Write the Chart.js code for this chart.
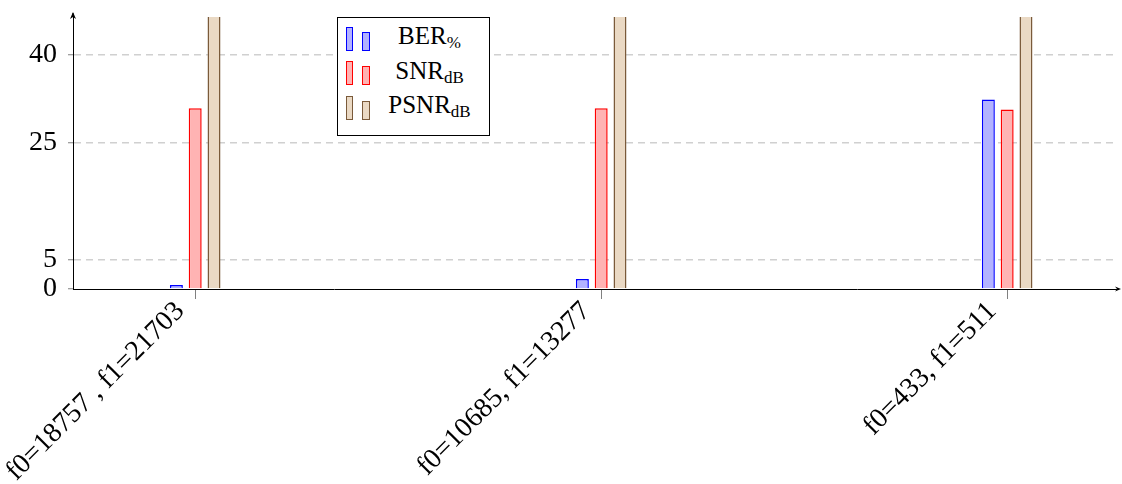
<!DOCTYPE html>
<html>
<head>
<meta charset="utf-8">
<script src="https://cdn.jsdelivr.net/npm/chart.js@4/dist/chart.umd.min.js"></script>
<style>
  body { margin: 0; background: #fff; }
  #wrap { position: relative; width: 1122px; height: 484px; }
  #chart { position: absolute; left: 0; top: 0; }
  #legend {
    position: absolute; left: 337px; top: 17px; width: 151px; height: 113px;
    border: 1px solid #000; background: #fff; padding-top: 4px;
    font-family: "Liberation Serif", serif; font-size: 25px; color: #000;
  }
  .row { position: relative; height: 34.5px; }
  .sym { position: absolute; bottom: 6px; box-sizing: border-box; border: 1.5px solid; }
  .s1 { left: 8px; width: 7px; height: 24px; }
  .s2 { left: 24px; width: 8px; height: 19px; }
  .txt { position: absolute; left: 32px; right: 0; top: 0px; text-align: center; }
  .txt sub { font-size: 17px; vertical-align: -4px; }
</style>
</head>
<body>
<div id="wrap">
  <canvas id="chart" width="1122" height="484"></canvas>
  <div id="legend"></div>
</div>
<script>
var categories = ["f0=18757 , f1=21703", "f0=10685, f1=13277", "f0=433, f1=511"];
var berValues = [0.7, 1.7, 32.4];
var snrValues = [30.9, 30.9, 30.7];
var psnrValues = [48, 48, 48];
var yTicks = [0, 5, 25, 40];

var series = [
  { name: "BER", sub: "%", values: berValues, fill: "#b3b3ff", line: "#0000ff" },
  { name: "SNR", sub: "dB", values: snrValues, fill: "#ffb3b3", line: "#ff0000" },
  { name: "PSNR", sub: "dB", values: psnrValues, fill: "#ead9c4", line: "#7a5a3a" }
];

var serif = "'Liberation Serif', serif";

// legend box (pgfplots style, two bars per entry)
var legend = document.getElementById("legend");
series.forEach(function (s) {
  var row = document.createElement("div");
  row.className = "row";
  row.innerHTML =
    '<span class="sym s1" style="background:' + s.fill + ';border-color:' + s.line + '"></span>' +
    '<span class="sym s2" style="background:' + s.fill + ';border-color:' + s.line + '"></span>' +
    '<span class="txt">' + s.name + "<sub>" + s.sub + "</sub></span>";
  legend.appendChild(row);
});

// arrows on the axis ends
var axisArrows = {
  id: "axisArrows",
  afterDraw: function (chart) {
    var ctx = chart.ctx;
    var a = chart.chartArea;
    ctx.save();
    ctx.fillStyle = "#000";
    ctx.strokeStyle = "#000";
    ctx.lineWidth = 1;
    ctx.beginPath();
    ctx.moveTo(a.left, a.top);
    ctx.lineTo(a.left, a.top - 4);
    ctx.stroke();
    ctx.beginPath();
    ctx.moveTo(a.left, a.top - 5);
    ctx.lineTo(a.left - 3, a.top + 2);
    ctx.lineTo(a.left, a.top);
    ctx.lineTo(a.left + 3, a.top + 2);
    ctx.closePath();
    ctx.fill();
    ctx.beginPath();
    ctx.moveTo(a.right + 3, a.bottom);
    ctx.lineTo(a.right - 3, a.bottom - 2.5);
    ctx.lineTo(a.right - 1, a.bottom);
    ctx.lineTo(a.right - 3, a.bottom + 2.5);
    ctx.closePath();
    ctx.fill();
    ctx.restore();
  }
};

var datasets = series.map(function (s) {
  return {
    label: s.name + s.sub,
    data: s.values.map(function (v, i) { return { x: i, y: v }; }),
    backgroundColor: s.fill,
    borderColor: s.line,
    borderWidth: 1.5,
    categoryPercentage: 0.139,
    barPercentage: 0.69
  };
});

new Chart(document.getElementById("chart"), {
  type: "bar",
  data: { datasets: datasets },
  plugins: [axisArrows],
  options: {
    responsive: false,
    animation: false,
    layout: { padding: { top: 17, right: 4, left: 0, bottom: 0 } },
    plugins: { legend: { display: false }, tooltip: { enabled: false } },
    scales: {
      x: {
        type: "linear",
        offset: false,
        min: -0.301,
        max: 2.273,
        afterBuildTicks: function (scale) {
          scale.ticks = categories.map(function (c, i) { return { value: i }; });
        },
        afterFit: function (scale) {
          scale.height = 195;
          scale.paddingLeft = 0;
          scale.paddingRight = 0;
          scale.paddingTop = 0;
          scale.paddingBottom = 0;
        },
        ticks: {
          autoSkip: false,
          minRotation: 45,
          maxRotation: 45,
          padding: -4,
          labelOffset: -15,
          color: "#000",
          font: { family: serif, size: 28 },
          callback: function (v) { return categories[v]; }
        },
        grid: {
          offset: false,
          drawOnChartArea: false,
          tickLength: 10,
          tickColor: "#808080",
          tickWidth: 1
        },
        border: { display: true, color: "#000", width: 1 }
      },
      y: {
        min: 0,
        max: 46.5,
        afterBuildTicks: function (scale) {
          scale.ticks = yTicks.map(function (v) { return { value: v }; });
        },
        afterFit: function (scale) {
          scale.width = 73;
          scale.paddingTop = 0;
          scale.paddingBottom = 0;
        },
        ticks: {
          padding: 11,
          color: "#000",
          font: { family: serif, size: 28 }
        },
        grid: {
          color: function (c) { return c.tick && c.tick.value === 0 ? "rgba(0,0,0,0)" : "#d0d0d0"; },
          lineWidth: 1.5,
          tickLength: 5,
          tickColor: "#808080",
          tickBorderDash: [],
          tickWidth: 1
        },
        border: { display: true, color: "#000", width: 1, dash: [7, 5] }
      }
    }
  }
});
</script>
</body>
</html>
